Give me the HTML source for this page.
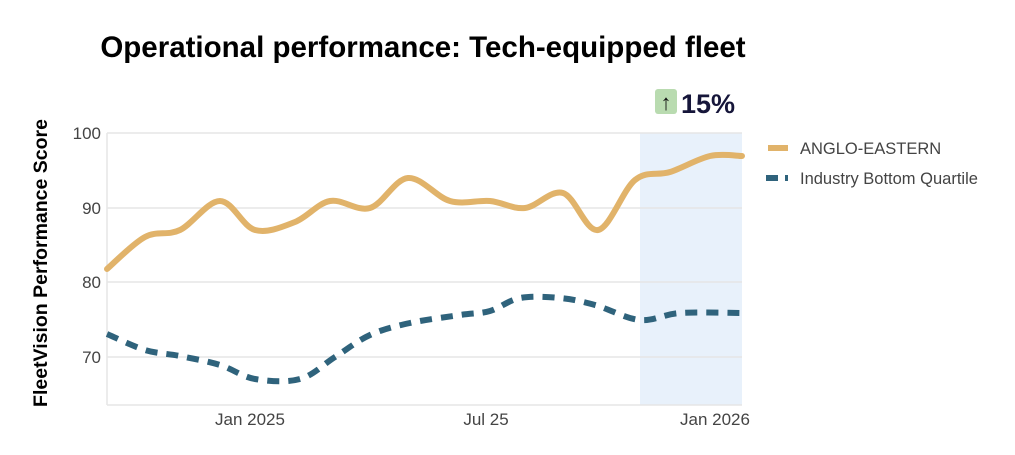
<!DOCTYPE html>
<html><head><meta charset="utf-8"><style>
body{margin:0;background:#fff;width:1015px;height:450px;overflow:hidden;font-family:"Liberation Sans",sans-serif}
</style></head><body>
<svg width="1015" height="450" xmlns="http://www.w3.org/2000/svg" font-family="Liberation Sans, sans-serif">
<text x="423" y="57" text-anchor="middle" font-size="29.5" font-weight="bold" fill="#000">Operational performance: Tech-equipped fleet</text>
<rect x="655" y="89" width="22" height="25" rx="3" fill="#b9dbb0"/>
<text x="666" y="110" text-anchor="middle" font-size="22" fill="#111">↑</text>
<text x="681" y="113" font-size="27" font-weight="bold" fill="#16163a">15%</text>
<rect x="640" y="133" width="102" height="272" fill="#e8f1fb"/>
<g stroke="#e6e6e6" stroke-width="1.5">
<line x1="107" y1="133" x2="742" y2="133"/><line x1="107" y1="208" x2="742" y2="208"/>
<line x1="107" y1="282" x2="742" y2="282"/><line x1="107" y1="357" x2="742" y2="357"/>
<line x1="107" y1="405" x2="742" y2="405"/><line x1="107" y1="133" x2="107" y2="405"/>
</g>
<g font-size="17" fill="#444" text-anchor="end">
<text x="101" y="139">100</text><text x="101" y="214">90</text><text x="101" y="288">80</text><text x="101" y="363">70</text>
</g>
<g font-size="17" fill="#444" text-anchor="middle">
<text x="250" y="425">Jan 2025</text><text x="486" y="425">Jul 25</text><text x="715" y="425">Jan 2026</text>
</g>
<text transform="translate(47,263) rotate(-90)" text-anchor="middle" font-size="19.5" font-weight="bold" fill="#000">FleetVision Performance Score</text>
<path id="g" fill="none" stroke="#e1b36a" stroke-width="6" stroke-linecap="round"/>
<path id="b" fill="none" stroke="#2f637c" stroke-width="6" stroke-dasharray="12,9"/>
<line x1="768" y1="148" x2="788" y2="148" stroke="#e1b36a" stroke-width="6"/>
<text x="800" y="154" font-size="16.5" fill="#444">ANGLO-EASTERN</text>
<line x1="766" y1="178" x2="778" y2="178" stroke="#2f637c" stroke-width="6"/>
<line x1="785" y1="178" x2="788" y2="178" stroke="#2f637c" stroke-width="6"/>
<text x="800" y="184" font-size="16.5" fill="#444">Industry Bottom Quartile</text>
</svg>
<script>
function cr(p){let d="M"+p[0][0]+","+p[0][1];for(let i=0;i<p.length-1;i++){const a=p[i-1]||p[i],b=p[i],c=p[i+1],e=p[i+2]||c;
d+=" C"+(b[0]+(c[0]-a[0])/6)+","+(b[1]+(c[1]-a[1])/6)+" "+(c[0]-(e[0]-b[0])/6)+","+(c[1]-(e[1]-b[1])/6)+" "+c[0]+","+c[1];}return d;}
document.getElementById("g").setAttribute("d",cr([[107,269],[145,237],[180,230],[220,201],[255,230],[295,222],[330,201],[370,208],[408,178],[450,201],[490,201],[525,208],[563,193],[598,230],[635,180],[670,172],[710,156],[742,156]]));
document.getElementById("b").setAttribute("d",cr([[107,334],[145,350],[180,356],[220,365],[255,379],[300,379],[335,357],[370,335],[410,323],[460,315],[490,311],[520,298],[560,298],[595,305],[640,320],[680,313],[742,313]]));
</script>
</body></html>
